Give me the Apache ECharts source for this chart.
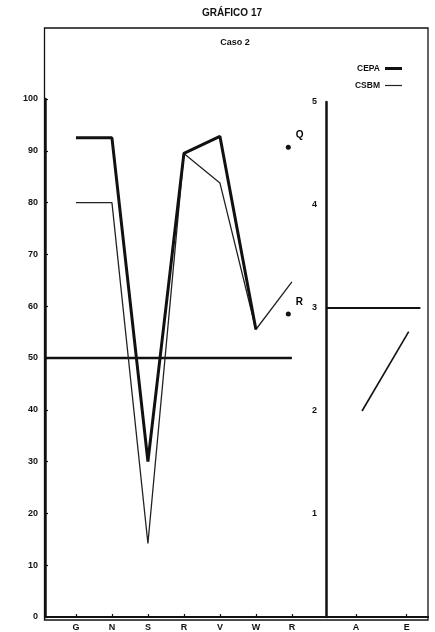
<!DOCTYPE html>
<html><head><meta charset="utf-8">
<script src="https://cdn.jsdelivr.net/npm/echarts@6/dist/echarts.min.js"></script>
<style>html,body{margin:0;padding:0;background:#fff}#c{width:435px;height:632px}</style>
</head><body><div id="c"></div>
<script>
// ---- data ----
const leftCategories = ['G', 'N', 'S', 'R', 'V', 'W', 'R'];
const cepa = [92.5, 92.5, 30, 89.5, 92.8, 55.5, null];
const csbm = [80, 80, 14.2, 89.5, 83.8, 55.5, 64.7];
const referenceLevel = 50;
const pointLabels = ['Q', 'R'];
const pointValues = [90.7, 58.5];
const pointX = 6.9;
const leftYTicks = [0, 10, 20, 30, 40, 50, 60, 70, 80, 90, 100];
const rightCategories = ['A', 'E'];
const rightLevel = 3;
const rightSlopeX = [1.12, 2.04];
const rightSlopeY = [2.0, 2.77];
const rightYTicks = [1, 2, 3, 4, 5];

// ---- build ----
const leftX = leftCategories.map((_, i) => i + 1);
const rightX = rightCategories.map((_, i) => i + 1);
const leftMin = 0.14, leftMax = 7.92;
const rightMin = 0.41, rightMax = 2.42;
const ink = '#111';
const lblFont = { color: ink, fontFamily: 'Liberation Sans', fontWeight: 'bold', fontSize: 9 };

const chart = echarts.init(document.getElementById('c'));
chart.setOption({
  animation: false,
  backgroundColor: '#fff',
  graphic: [
    { type: 'rect', shape: { x: 44.5, y: 28, width: 383.5, height: 592 }, style: { fill: 'none', stroke: ink, lineWidth: 1.3 }, z: 0 },
    { type: 'text', x: 232, y: 13, style: { text: 'GRÁFICO 17', fill: ink, font: 'bold 10px "Liberation Sans"', textAlign: 'center', textVerticalAlign: 'middle' } },
    { type: 'text', x: 235, y: 43, style: { text: 'Caso 2', fill: ink, font: 'bold 9px "Liberation Sans"', textAlign: 'center', textVerticalAlign: 'middle' } }
  ],
  legend: [
    { data: ['CEPA'], right: 28, top: 59, align: 'right', icon: 'rect', itemWidth: 17, itemHeight: 3,
      textStyle: Object.assign({}, lblFont, { fontSize: 8.5 }) },
    { data: ['CSBM'], right: 28, top: 76, align: 'right', icon: 'rect', itemWidth: 17, itemHeight: 1.2,
      textStyle: Object.assign({}, lblFont, { fontSize: 8.5 }) }
  ],
  grid: [
    { left: 45, top: 99, width: 280, height: 521 },
    { left: 326, top: 102, width: 102, height: 518 }
  ],
  xAxis: [
    { type: 'value', gridIndex: 0, min: leftMin, max: leftMax, splitLine: { show: false },
      axisLine: { lineStyle: { color: ink, width: 2.2 } },
      axisTick: { inside: true, length: 3, customValues: leftX, lineStyle: { color: ink, width: 1.2 } },
      axisLabel: Object.assign({ margin: 6, customValues: leftX, formatter: v => leftCategories[Math.round(v) - 1] || '' }, lblFont) },
    { type: 'value', gridIndex: 1, min: rightMin, max: rightMax, splitLine: { show: false },
      axisLine: { lineStyle: { color: ink, width: 2.2 } },
      axisTick: { inside: true, length: 3, customValues: rightX, lineStyle: { color: ink, width: 1.2 } },
      axisLabel: Object.assign({ margin: 6, customValues: rightX, formatter: v => rightCategories[Math.round(v) - 1] || '' }, lblFont) }
  ],
  yAxis: [
    { type: 'value', gridIndex: 0, min: 0, max: 100, interval: 10, splitLine: { show: false },
      axisLine: { show: true, lineStyle: { color: ink, width: 2.5 } },
      axisTick: { show: true, inside: true, length: 3, customValues: leftYTicks, lineStyle: { color: ink, width: 1.2 } },
      axisLabel: Object.assign({ margin: 7, customValues: leftYTicks }, lblFont) },
    { type: 'value', gridIndex: 1, min: 0, max: 5, interval: 1, splitLine: { show: false },
      axisLine: { show: true, lineStyle: { color: ink, width: 2.5 } },
      axisTick: { show: false },
      axisLabel: Object.assign({ margin: 9, customValues: rightYTicks }, lblFont) }
  ],
  series: [
    { name: 'CEPA', type: 'line', xAxisIndex: 0, yAxisIndex: 0, symbol: 'none', color: ink,
      lineStyle: { color: ink, width: 3 }, data: leftX.map((x, i) => [x, cepa[i]]), z: 4 },
    { name: 'CSBM', type: 'line', xAxisIndex: 0, yAxisIndex: 0, symbol: 'none', color: '#222',
      lineStyle: { color: '#222', width: 1.3 }, data: leftX.map((x, i) => [x, csbm[i]]), z: 3 },
    { name: 'ref', type: 'line', xAxisIndex: 0, yAxisIndex: 0, symbol: 'none',
      lineStyle: { color: ink, width: 2.5 }, data: [[leftMin, referenceLevel], [leftX[leftX.length - 1], referenceLevel]], z: 2 },
    { name: 'points', type: 'scatter', xAxisIndex: 0, yAxisIndex: 0, symbolSize: 5, itemStyle: { color: ink, opacity: 1 },
      data: pointValues.map((v, i) => ({ value: [pointX, v], name: pointLabels[i] })),
      label: Object.assign({ show: true, formatter: p => p.name, position: 'right', offset: [0, -12], opacity: 1 }, lblFont, { fontSize: 10, color: '#000' }) },
    { name: 'rightLevel', type: 'line', xAxisIndex: 1, yAxisIndex: 1, symbol: 'none',
      lineStyle: { color: ink, width: 2 }, data: [[rightMin, rightLevel], [2.27, rightLevel]] },
    { name: 'rightSlope', type: 'line', xAxisIndex: 1, yAxisIndex: 1, symbol: 'none',
      lineStyle: { color: ink, width: 1.6 }, data: rightSlopeX.map((x, i) => [x, rightSlopeY[i]]) }
  ]
});
</script>
</body></html>
